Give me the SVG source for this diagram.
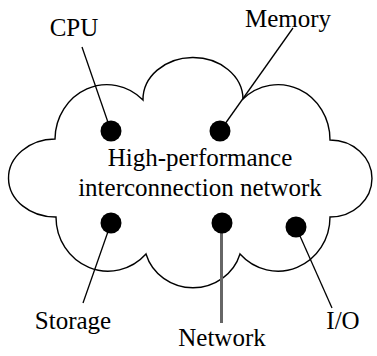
<svg xmlns="http://www.w3.org/2000/svg" width="377" height="356" viewBox="0 0 377 356">
  <style>
    .label { font-family: "Liberation Serif", "Times New Roman", Times, "DejaVu Serif", serif; font-size: 25px; fill: #000; text-anchor: middle; }
    .cloud { fill: #fff; stroke: #000; stroke-width: 1.4; stroke-linejoin: miter; }
    .dot { fill: #000; }
    .lead { stroke: #000; stroke-width: 1.3; fill: none; }
    .trunk { stroke: #666; stroke-width: 3; fill: none; }
  </style>
  <rect width="377" height="356" fill="#fff"/>

  <!-- interconnection network cloud -->
  <g id="cloud">
    <path class="cloud" d="M55,139
      A52,55 0 0 1 143,100
      A50,42 0 0 1 243,99
      A52,55 0 0 1 330,140
      A42,38.5 0 0 1 330,217
      A52,54 0 0 1 240,254
      A49,47 0 0 1 146,254
      A52,54 0 0 1 56,217
      A47,39 0 0 1 55,139 Z"/>
    <text class="label" x="200" y="166" font-family="Liberation Serif, serif">High-performance</text>
    <text class="label" x="200" y="196" font-family="Liberation Serif, serif">interconnection network</text>
  </g>

  <!-- leader lines from the labels to the attachment points -->
  <g id="connectors">
    <line class="lead" x1="82" y1="47" x2="111" y2="131"/>
    <line class="lead" x1="293" y1="28" x2="220" y2="131"/>
    <line class="lead" x1="111" y1="223" x2="83" y2="303"/>
    <line class="trunk" x1="221.5" y1="223" x2="221.5" y2="323"/>
    <line class="lead" x1="296" y1="227" x2="332" y2="308"/>
  </g>

  <g id="cpu">
    <circle class="dot" cx="111" cy="131" r="10.5"/>
    <text class="label" x="74" y="36">CPU</text>
  </g>
  <g id="memory">
    <circle class="dot" cx="220" cy="131" r="10.5"/>
    <text class="label" x="288" y="27">Memory</text>
  </g>
  <g id="storage">
    <circle class="dot" cx="111" cy="223" r="10.5"/>
    <text class="label" x="73" y="329">Storage</text>
  </g>
  <g id="network">
    <circle class="dot" cx="222" cy="223" r="10.5"/>
    <text class="label" x="222" y="346">Network</text>
  </g>
  <g id="io">
    <circle class="dot" cx="296" cy="227" r="10.5"/>
    <text class="label" x="343" y="329">I/O</text>
  </g>
</svg>
